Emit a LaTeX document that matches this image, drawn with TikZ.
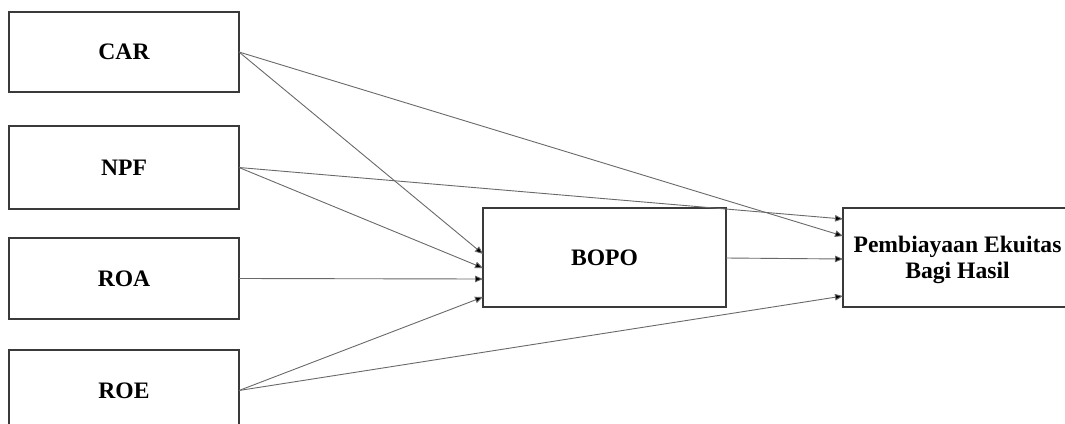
\documentclass[tikz,border=0pt]{standalone}
\usepackage{fontspec}
\setmainfont{Liberation Serif}
\usetikzlibrary{arrows.meta}
\definecolor{boxline}{RGB}{58,58,58}
\definecolor{linkline}{RGB}{105,105,105}
\tikzset{
  varbox/.style={draw=boxline, line width=1.1pt, fill=white, inner sep=0pt, outer sep=0pt,
    align=center, font=\fontsize{23.6}{26.5}\selectfont\bfseries},
  link/.style={draw=linkline, line width=0.9pt,
    -{Triangle[length=8pt,width=6.5pt,fill=black]}},
}
\begin{document}
\begin{tikzpicture}[x=1pt,y=-1pt]
  \useasboundingbox (0,0) rectangle (1065,423);
  \clip (0,0) rectangle (1065,423);

  % independent variables
  \node[varbox, minimum width=230pt, minimum height=80pt] (car) at (124,52) {CAR};
  \node[varbox, minimum width=230pt, minimum height=83pt] (npf) at (124,167.5) {NPF};
  \node[varbox, minimum width=230pt, minimum height=81pt] (roa) at (124,278.5) {ROA};
  \node[varbox, minimum width=230pt, minimum height=81pt] (roe) at (124,390.5) {ROE};

  % intervening variable
  \node[varbox, minimum width=243pt, minimum height=99pt] (bopo) at (604.5,257.5) {BOPO};

  % dependent variable
  \node[varbox, minimum width=229pt, minimum height=99pt] (peb) at (957.5,257.5) {};
  \node[font=\fontsize{23.6}{26.5}\selectfont\bfseries, align=center, inner sep=0pt]
    (pebtext) at ([yshift=-2.5pt]peb.center) {Pembiayaan Ekuitas\\Bagi Hasil};

  % paths into BOPO
  \draw[link] (car.east) -- ([yshift=3.5pt]bopo.west);
  \draw[link] (npf.east) -- ([yshift=-10.5pt]bopo.west);
  \draw[link] (roa.east) -- ([yshift=-21.5pt]bopo.west);
  \draw[link] (roe.east) -- ([yshift=-39.5pt]bopo.west);

  % paths into the dependent variable
  \draw[link] (npf.east) -- ([yshift=38.5pt]peb.west);
  \draw[link] (car.east) -- ([yshift=21.5pt]peb.west);
  \draw[link] ([yshift=-0.5pt]bopo.east) -- ([yshift=-1.5pt]peb.west);
  \draw[link] (roe.east) -- ([yshift=-38.5pt]peb.west);
\end{tikzpicture}
\end{document}
